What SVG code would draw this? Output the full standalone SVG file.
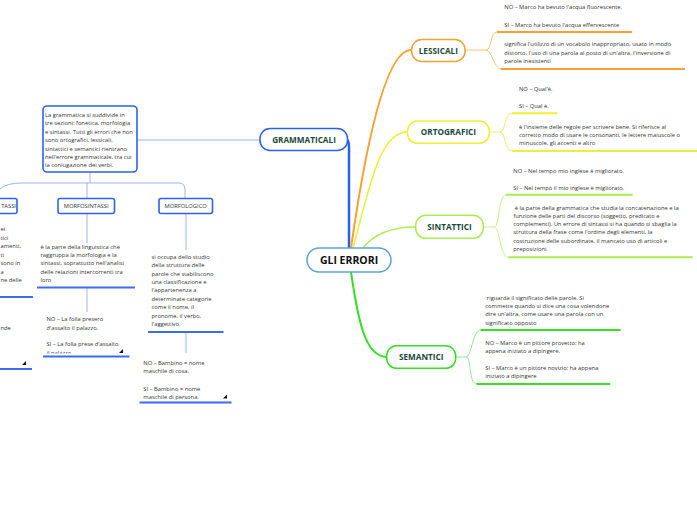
<svg xmlns="http://www.w3.org/2000/svg" width="697" height="520" viewBox="0 0 697 520">
<style>
text{font-family:"Open Sans","Noto Sans",sans-serif}
.t{font-size:5.8px;fill:#333}
.lab{font-size:8.2px;font-weight:bold;fill:#1b4a3c;text-anchor:middle}
.sm{font-size:5.8px;fill:#333;text-anchor:middle}
.bx{fill:#fff;stroke:#2d62f0;stroke-width:1.6}
.ln{fill:none;stroke-width:1}
.ul{fill:none;stroke-width:2}
</style>
<defs>
<clipPath id="cp1"><rect x="40" y="300" width="100" height="53.5"/></clipPath>
</defs>
<rect width="697" height="520" fill="#fff"/>

<g id="connectors">
<path d="M349,248 L349,147 Q349,140 346,139" fill="none" stroke="#2a5ff0" stroke-width="2.5"/>
<path d="M351,248 C365,150 385,50 411,50" fill="none" stroke="#f7a131" stroke-width="2"/>
<path d="M353,248 C370,185 380,132 407,132" fill="none" stroke="#f0f032" stroke-width="1.5"/>
<path d="M362,249 C375,232 395,227 415,227" fill="none" stroke="#a8ee50" stroke-width="1.5"/>
<path d="M351,272 C358,320 365,357 387,357" fill="none" stroke="#33e022" stroke-width="2"/>
<path d="M260,140 H137" class="ln" stroke="#9bb6f2"/>
<path d="M90,172 V183" class="ln" stroke="#9bb6f2"/>
<path d="M0,189 Q6,183 22,183 H179 Q185,183 185,190 V198" class="ln" stroke="#9bb6f2"/>
<path d="M87,183 V198" class="ln" stroke="#9bb6f2"/>
<path d="M87,213 V243" class="ln" stroke="#9bb6f2"/>
<path d="M87,288 V312" class="ln" stroke="#9bb6f2"/>
<path d="M186,213 V250" class="ln" stroke="#9bb6f2"/>
<path d="M186,332 V353" class="ln" stroke="#9bb6f2"/>
<path d="M465,50 H486 C492,50 490,32 497,32 M486,50 C492,50 494,69 501,69" class="ln" stroke="#fbc477"/>
<path d="M489,132 H500 C506,132 504,113 512,113 M500,132 C506,132 504,151 512,151" class="ln" stroke="#f3f36a"/>
<path d="M483,227 H494 C500,227 498,195 506,195 M494,227 C500,227 500,257 508,257" class="ln" stroke="#c6f08a"/>
<path d="M456,357 H466 C472,357 472,330 481,330 M466,357 C472,357 468,384 477,384" class="ln" stroke="#8fe88f"/>
</g>

<g id="gli-errori">
<rect x="307" y="248" width="84" height="24" rx="12" fill="#fff" stroke="#5aa2de" stroke-width="1.5"/>
<text x="349" y="263.5" font-size="10.5" font-weight="bold" fill="#111" text-anchor="middle">GLI ERRORI</text>
</g>

<g id="grammaticali">
<rect x="260" y="128.5" width="87.5" height="22" rx="10" fill="#fff" stroke="#2a5ff0" stroke-width="1.5"/>
<text x="304" y="142.8" class="lab">GRAMMATICALI</text>
</g>

<g id="grammatica-desc">
<rect x="43" y="106" width="94" height="66" rx="4" class="bx"/>
<text class="t" x="45" y="117">La grammatica si suddivide in</text>
<text class="t" x="45" y="125.4">tre sezioni: fonetica, morfologia</text>
<text class="t" x="45" y="133.8">e sintassi. Tutti gli errori che non</text>
<text class="t" x="45" y="142.2">sono ortografici, lessicali,</text>
<text class="t" x="45" y="150.6">sintattici e semantici rientrano</text>
<text class="t" x="45" y="159">nell'errore grammaticale, tra cui</text>
<text class="t" x="45" y="167.4">la coniugazione dei verbi.</text>
</g>

<g id="sintassi">
<rect x="-30" y="198.5" width="47" height="15" rx="2" class="bx"/>
<text x="16" y="208" font-size="5.8" fill="#333" text-anchor="end">TASSI</text>
<text class="t" x="0.5" y="231">ei</text>
<text class="t" x="0.5" y="239.5">tici</text>
<text class="t" x="0.5" y="248">amenti,</text>
<text class="t" x="0.5" y="256.5">ti</text>
<text class="t" x="0.5" y="265">sono in</text>
<text class="t" x="0.5" y="273.5">a</text>
<text class="t" x="0.5" y="282">ne delle</text>
<path d="M0,297 H33" class="ul" stroke="#3a6df0"/>
<text class="t" x="0.5" y="330">nde</text>
<polygon points="22,365 26,361 26,365" fill="#111"/>
<path d="M0,369 H32" class="ul" stroke="#3a6df0"/>
</g>

<g id="morfosintassi">
<rect x="58" y="198.5" width="56.5" height="15" rx="2" class="bx"/>
<text x="86.2" y="208.2" class="sm">MORFOSINTASSI</text>
<text class="t" x="40.5" y="248.7">è la parte della linguistica che</text>
<text class="t" x="40.5" y="257">raggruppa la morfologia e la</text>
<text class="t" x="40.5" y="265.3">sintassi, soprattutto nell'analisi</text>
<text class="t" x="40.5" y="273.6">delle relazioni intercorrenti tra</text>
<text class="t" x="40.5" y="281.9">loro</text>
<path d="M37,287.5 H135" class="ul" stroke="#3a6df0"/>
<text class="t" x="46.5" y="320.5">NO – La folla presero</text>
<text class="t" x="46.5" y="329.5">d'assalto il palazzo.</text>
<text class="t" x="46.5" y="346.3">SI – La folla prese d'assalto</text>
<text class="t" x="46.5" y="354.6" clip-path="url(#cp1)">il palazzo.</text>
<polygon points="119,353 123,349 123,353" fill="#111"/>
<path d="M43,356.5 H129.5" class="ul" stroke="#3a6df0"/>
</g>

<g id="morfologico">
<rect x="159" y="198.5" width="53.5" height="15" rx="2" class="bx"/>
<text x="185.7" y="208.2" class="sm">MORFOLOGICO</text>
<text class="t" x="151.5" y="258.7">si occupa dello studio</text>
<text class="t" x="151.5" y="267.1">della struttura delle</text>
<text class="t" x="151.5" y="275.5">parole che stabiliscono</text>
<text class="t" x="151.5" y="283.9">una classificazione e</text>
<text class="t" x="151.5" y="292.3">l'appartenenza a</text>
<text class="t" x="151.5" y="300.7">determinate categorie</text>
<text class="t" x="151.5" y="309.1">come il nome, il</text>
<text class="t" x="151.5" y="317.5">pronome, il verbo,</text>
<text class="t" x="151.5" y="325.9">l'aggettivo.</text>
<path d="M148,332 H223.5" class="ul" stroke="#3a6df0"/>
<text class="t" x="143.3" y="364.7">NO – Bambino = nome</text>
<text class="t" x="143.3" y="373.3">maschile di cosa.</text>
<text class="t" x="143.3" y="391">SI – Bambino = nome</text>
<text class="t" x="143.3" y="398.7">maschile di persona.</text>
<polygon points="223,398.5 227,394.5 227,398.5" fill="#111"/>
<path d="M139.5,402.5 H231.5" class="ul" stroke="#3a6df0"/>
</g>

<g id="lessicali">
<rect x="411.7" y="39.5" width="53.3" height="22" rx="10" fill="#fff" stroke="#f7a131" stroke-width="1.5"/>
<text x="438.3" y="53.8" class="lab">LESSICALI</text>
<text class="t" x="504.3" y="9.3">NO – Marco ha bevuto l'acqua fluorescente.</text>
<text class="t" x="504.3" y="26.7">SI – Marco ha bevuto l'acqua effervescente</text>
<path d="M497,32 H632" class="ul" stroke="#f7a131" stroke-width="1.6"/>
<text class="t" x="504.3" y="46.3">significa l'utilizzo di un vocabolo inappropriato, usato in modo</text>
<text class="t" x="504.3" y="54.7">distorto, l'uso di una parola al posto di un'altra, l'inversione di</text>
<text class="t" x="504.3" y="63.4">parole inesistenti</text>
<path d="M501,69 H685" class="ul" stroke="#f7a131" stroke-width="1.6"/>
</g>

<g id="ortografici">
<rect x="407.5" y="121" width="81.8" height="22.3" rx="10" fill="#fff" stroke="#f0f032" stroke-width="1.5"/>
<text x="448.4" y="135.2" class="lab">ORTOGRAFICI</text>
<text class="t" x="519" y="91">NO – Qual'è.</text>
<text class="t" x="519" y="108">SI – Qual è.</text>
<path d="M512,113.3 H557.5" class="ul" stroke="#f0f032" stroke-width="1.6"/>
<text class="t" x="519" y="128.7">è l'insieme delle regole per scrivere bene. Si riferisce al</text>
<text class="t" x="519" y="137">corretto modo di usare le consonanti, le lettere maiuscole o</text>
<text class="t" x="519" y="144.7">minuscole, gli accenti e altro</text>
<path d="M512,151 H697" class="ul" stroke="#f0f032" stroke-width="1.6"/>
</g>

<g id="sintattici">
<rect x="415.7" y="215.3" width="67.6" height="23" rx="10" fill="#fff" stroke="#a8ee50" stroke-width="1.5"/>
<text x="449.5" y="229.8" class="lab">SINTATTICI</text>
<text class="t" x="513.3" y="173">NO – Nel tempo mio inglese è migliorato.</text>
<text class="t" x="513.3" y="189.7">SI – Nel tempo il mio inglese è migliorato.</text>
<path d="M506,194.7 H632.7" class="ul" stroke="#a8ee50" stroke-width="1.6"/>
<text class="t" x="513.3" y="209.7" xml:space="preserve"> è la parte della grammatica che studia la concatenazione e la</text>
<text class="t" x="513.3" y="217.5">funzione delle parti del discorso (soggetto, predicato e</text>
<text class="t" x="513.3" y="226">complementi). Un errore di sintassi si ha quando si sbaglia la</text>
<text class="t" x="513.3" y="234.3">struttura della frase come l'ordine degli elementi, la</text>
<text class="t" x="513.3" y="243">costruzione delle subordinate, il mancato uso di articoli e</text>
<text class="t" x="513.3" y="251.3">preposizioni.</text>
<path d="M508.3,257.3 H692.7" class="ul" stroke="#a8ee50" stroke-width="1.6"/>
</g>

<g id="semantici">
<rect x="386.7" y="345.8" width="69" height="22.5" rx="10" fill="#fff" stroke="#33e022" stroke-width="1.5"/>
<text x="421.2" y="360" class="lab">SEMANTICI</text>
<text class="t" x="485.3" y="299.7" xml:space="preserve"> riguarda il significato delle parole. Si</text>
<text class="t" x="485.3" y="308">commette quando si dice una cosa volendone</text>
<text class="t" x="485.3" y="316.3">dire un'altra, come usare una parola con un</text>
<text class="t" x="485.3" y="324.7">significato opposto</text>
<path d="M480.7,330 H620.7" class="ul" stroke="#33e022" stroke-width="1.6"/>
<text class="t" x="485.3" y="344.7">NO – Marco è un pittore provetto: ha</text>
<text class="t" x="485.3" y="353">appena iniziato a dipingere.</text>
<text class="t" x="485.3" y="369.7">SI – Marco è un pittore novizio: ha appena</text>
<text class="t" x="485.3" y="378.3">iniziato a dipingere</text>
<path d="M476.7,384 H610" class="ul" stroke="#33e022" stroke-width="1.6"/>
</g>
</svg>
